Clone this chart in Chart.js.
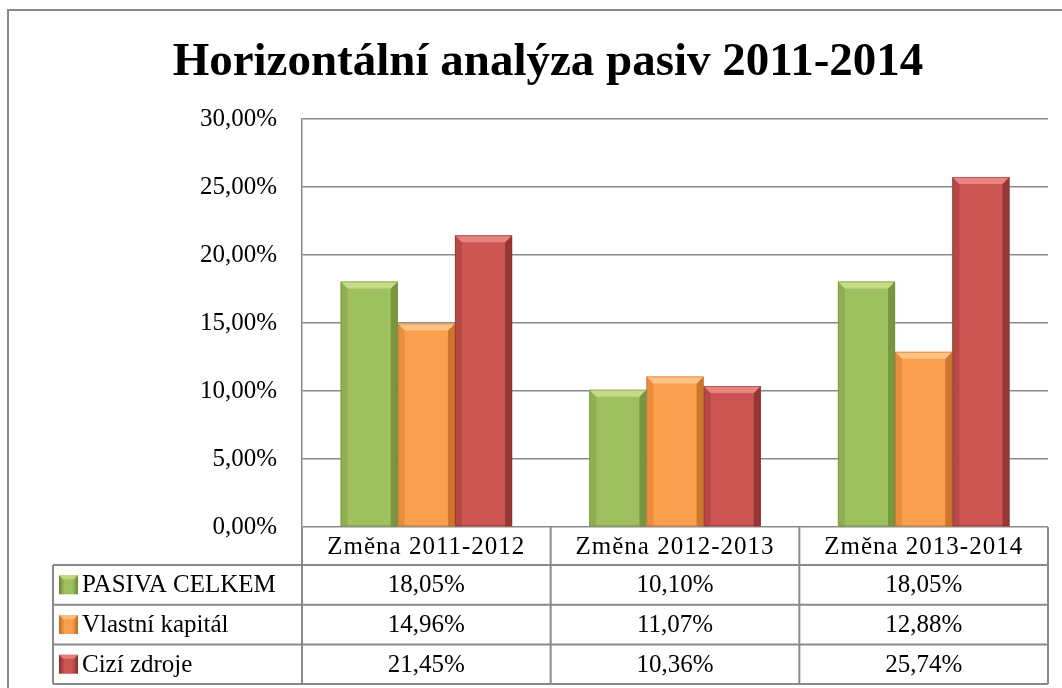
<!DOCTYPE html>
<html>
<head>
<meta charset="utf-8">
<script src="https://cdn.jsdelivr.net/npm/chart.js@4.4.1/dist/chart.umd.min.js"></script>
<style>
  html, body { margin: 0; padding: 0; background: #ffffff; }
  #wrap { width: 1062px; height: 688px; position: relative; }
</style>
</head>
<body>
<div id="wrap"><canvas id="c" width="1062" height="688"></canvas></div>
<script>
const chartTitle = 'Horizontální analýza pasiv 2011-2014';
const categories = ['Změna 2011-2012', 'Změna 2012-2013', 'Změna 2013-2014'];
const seriesNames = ['PASIVA CELKEM', 'Vlastní kapitál', 'Cizí zdroje'];
const pasivaCelkem = [18.05, 10.10, 18.05];
const vlastniKapital = [14.96, 11.07, 12.88];
const ciziZdroje = [21.45, 10.36, 25.74];
const yMin = 0, yMax = 30, yStep = 5;

const FONT = '"Liberation Serif", "Times New Roman", serif';
const GRID = '#8a8a8a';
const palette = [
  { face: '#9FC05E', light: '#C6DF8A', dark: '#6B8836' },
  { face: '#F99F4D', light: '#FDC58C', dark: '#BF6A22' },
  { face: '#CC5452', light: '#EA8986', dark: '#842D2B' }
];
const fmt = v => v.toFixed(2).replace('.', ',') + '%';

const bevelPlugin = {
  id: 'bevel',
  afterDatasetsDraw(chart) {
    const ctx = chart.ctx;
    chart.data.datasets.forEach((ds, di) => {
      const meta = chart.getDatasetMeta(di);
      const col = palette[di];
      meta.data.forEach(el => {
        const p = el.getProps(['x', 'y', 'base', 'width'], true);
        const L = p.x - p.width / 2, R = p.x + p.width / 2, T = p.y, B = p.base;
        const b = 7;
        ctx.save();
        ctx.fillStyle = col.dark;
        ctx.globalAlpha = 0.75;
        ctx.beginPath();
        ctx.moveTo(R, T); ctx.lineTo(R, B); ctx.lineTo(R - b, B); ctx.lineTo(R - b, T + b); ctx.closePath();
        ctx.fill();
        ctx.globalAlpha = 0.3;
        ctx.beginPath();
        ctx.moveTo(L, T); ctx.lineTo(L + b, T + b); ctx.lineTo(L + b, B); ctx.lineTo(L, B); ctx.closePath();
        ctx.fill();
        ctx.globalAlpha = 0.9;
        ctx.fillStyle = col.light;
        ctx.beginPath();
        ctx.moveTo(L, T); ctx.lineTo(R, T); ctx.lineTo(R - b, T + b); ctx.lineTo(L + b, T + b); ctx.closePath();
        ctx.fill();
        ctx.globalAlpha = 0.5;
        ctx.strokeStyle = col.dark;
        ctx.lineWidth = 1;
        ctx.strokeRect(L + 0.5, T + 0.5, p.width - 1, B - T - 1);
        ctx.restore();
      });
    });
  }
};

const framePlugin = {
  id: 'frame',
  beforeDraw(chart) {
    const ctx = chart.ctx;
    ctx.save();
    ctx.fillStyle = '#ffffff';
    ctx.fillRect(0, 0, chart.width, chart.height);
    ctx.strokeStyle = GRID;
    ctx.lineWidth = 2;
    ctx.beginPath();
    ctx.moveTo(8, 700); ctx.lineTo(8, 10); ctx.lineTo(1070, 10);
    ctx.stroke();
    ctx.fillStyle = '#000000';
    ctx.font = 'bold 47px ' + FONT;
    ctx.textAlign = 'center';
    ctx.textBaseline = 'alphabetic';
    ctx.fillText(chartTitle, 548, 75);
    ctx.restore();
  },
  afterDraw(chart) {
    const ctx = chart.ctx;
    const ca = chart.chartArea;
    const xs = chart.scales.x;
    const left = ca.left, right = ca.right;
    const colW = (right - left) / categories.length;
    const tableLeft = 53;
    const headTop = ca.bottom;
    const headBottom = headTop + 38;
    const rowH = 39.7;
    const rowsData = [pasivaCelkem, vlastniKapital, ciziZdroje];
    const tableBottom = headBottom + rowH * rowsData.length;
    ctx.save();
    ctx.strokeStyle = GRID;
    ctx.lineWidth = 2;
    ctx.beginPath();
    for (let i = 0; i <= categories.length; i++) {
      const x = left + i * colW;
      ctx.moveTo(x, headTop); ctx.lineTo(x, tableBottom);
    }
    ctx.moveTo(tableLeft, headBottom); ctx.lineTo(tableLeft, tableBottom);
    for (let r = 0; r <= rowsData.length; r++) {
      const y = headBottom + r * rowH;
      ctx.moveTo(tableLeft, y); ctx.lineTo(right, y);
    }
    ctx.stroke();

    ctx.fillStyle = '#000000';
    ctx.font = '25px ' + FONT;
    ctx.textBaseline = 'middle';
    ctx.textAlign = 'center';
    ctx.letterSpacing = '1px';
    categories.forEach((c, i) => {
      ctx.fillText(c, xs.getPixelForValue(i), (headTop + headBottom) / 2 + 1);
    });
    ctx.letterSpacing = '0px';
    rowsData.forEach((arr, r) => {
      const cy = headBottom + r * rowH + rowH / 2 + 1;
      arr.forEach((v, i) => {
        ctx.textAlign = 'center';
        ctx.fillText(fmt(v), xs.getPixelForValue(i), cy);
      });
      const k = 19;
      const kx = 59, ky = cy - k / 2 - 1;
      const col = palette[r];
      const g = ctx.createLinearGradient(kx, ky, kx + k, ky);
      g.addColorStop(0, col.dark);
      g.addColorStop(0.3, col.face);
      g.addColorStop(0.7, col.face);
      g.addColorStop(1, col.dark);
      ctx.fillStyle = g;
      ctx.fillRect(kx, ky, k, k);
      ctx.fillStyle = col.light;
      ctx.globalAlpha = 0.8;
      ctx.beginPath();
      ctx.moveTo(kx, ky); ctx.lineTo(kx + k, ky); ctx.lineTo(kx + k - 4, ky + 4); ctx.lineTo(kx + 4, ky + 4); ctx.closePath();
      ctx.fill();
      ctx.globalAlpha = 1;
      ctx.fillStyle = '#000000';
      ctx.textAlign = 'left';
      ctx.fillText(seriesNames[r], 82, cy);
    });
    ctx.restore();
  }
};

new Chart(document.getElementById('c'), {
  type: 'bar',
  data: {
    labels: categories,
    datasets: [
      { label: seriesNames[0], data: pasivaCelkem, backgroundColor: palette[0].face },
      { label: seriesNames[1], data: vlastniKapital, backgroundColor: palette[1].face },
      { label: seriesNames[2], data: ciziZdroje, backgroundColor: palette[2].face }
    ]
  },
  options: {
    responsive: false,
    devicePixelRatio: 1,
    animation: false,
    layout: { padding: { left: 0, top: 119, right: 14, bottom: 161 } },
    datasets: { bar: { categoryPercentage: 0.69, barPercentage: 1.0 } },
    plugins: {
      legend: { display: false },
      title: { display: false },
      tooltip: { enabled: false }
    },
    scales: {
      x: { display: false, grid: { display: false } },
      y: {
        min: yMin, max: yMax,
        afterFit(scale) { scale.width = 302; },
        ticks: {
          stepSize: yStep,
          padding: 25,
          color: '#000000',
          font: { family: FONT, size: 25 },
          callback: v => fmt(v)
        },
        grid: { color: GRID, lineWidth: 1.5, drawTicks: false },
        border: { display: true, color: GRID, width: 1.5 }
      }
    }
  },
  plugins: [framePlugin, bevelPlugin]
});
</script>
</body>
</html>
